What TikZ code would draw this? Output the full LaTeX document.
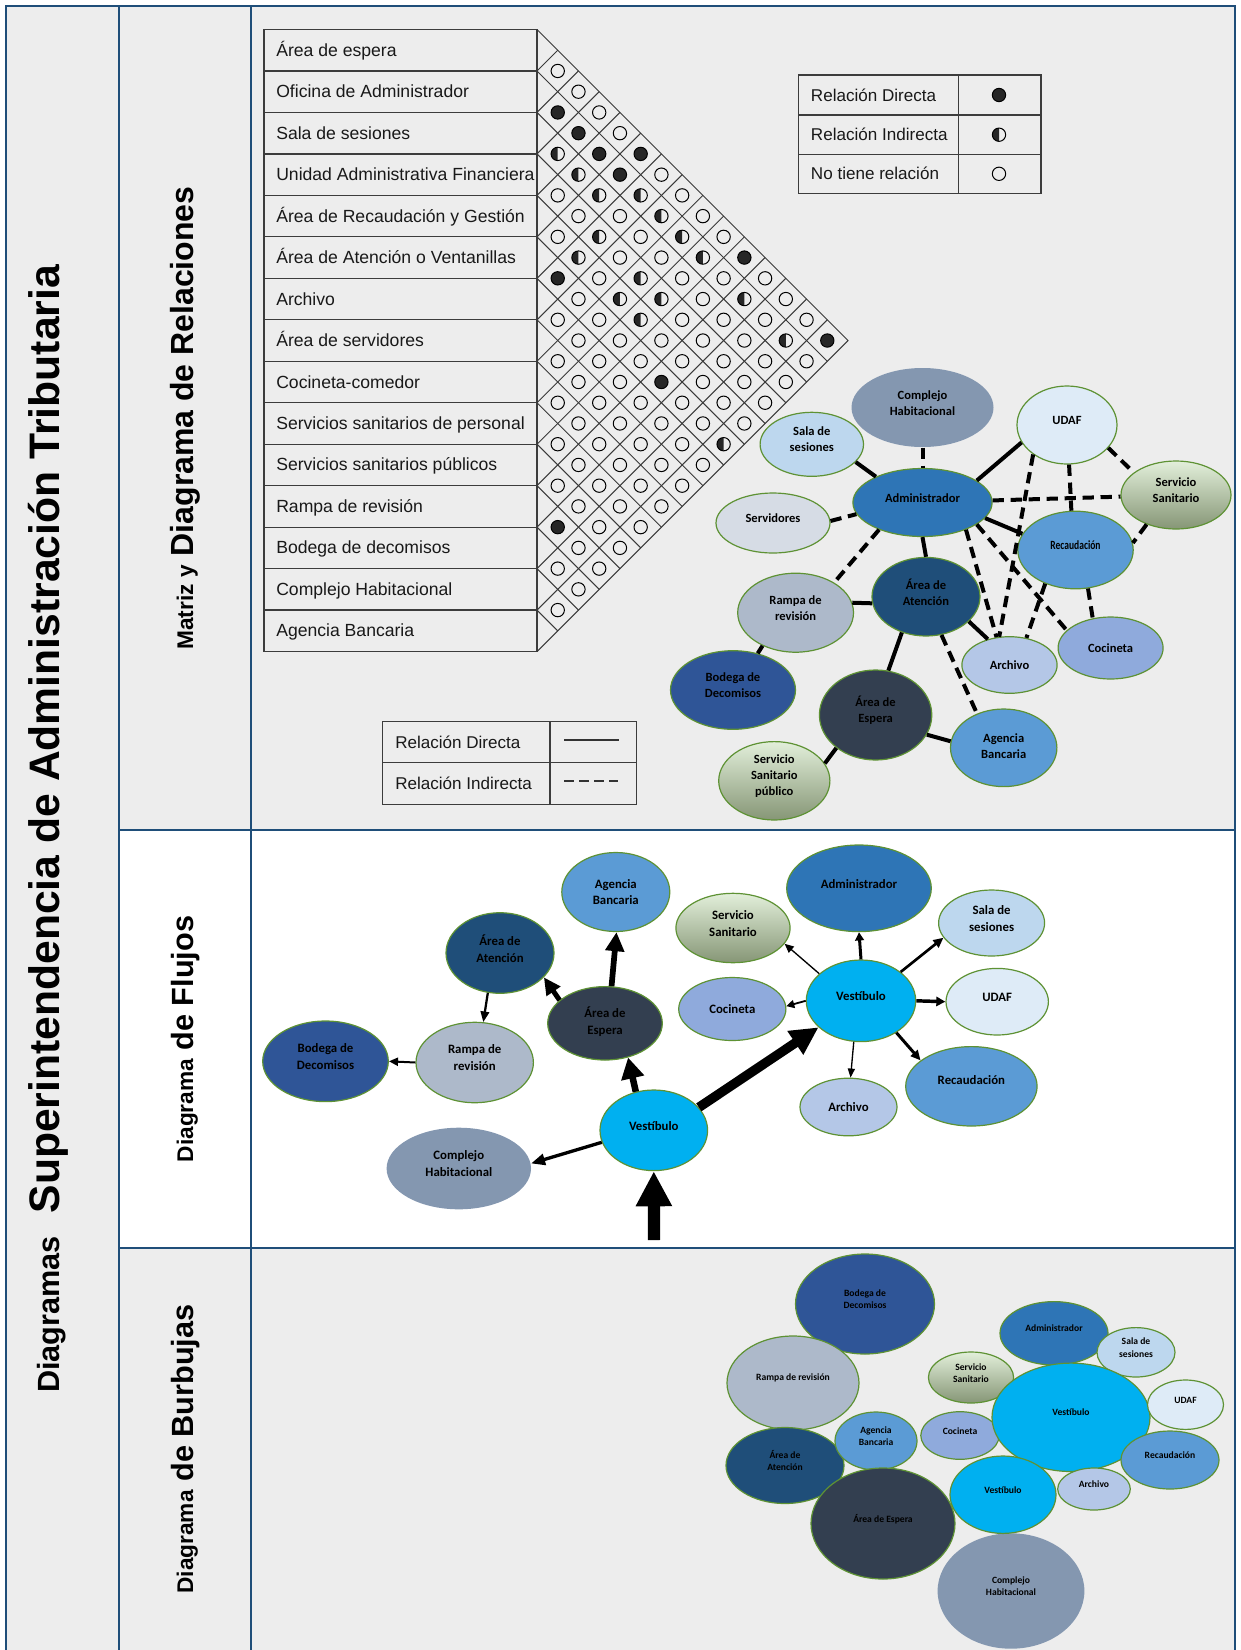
\documentclass[tikz,border=0pt]{standalone}
\usepackage{fontspec}
\usepackage{graphicx}
\setmainfont{Liberation Sans}
\newfontfamily\calfont{Carlito}
\usetikzlibrary{shapes.geometric,arrows.meta}

\definecolor{framec}{HTML}{1F4E79}
\definecolor{bgc}{HTML}{EDEDED}
\definecolor{tblc}{HTML}{3C3C3C}
\definecolor{grc}{HTML}{3A3A3A}
\definecolor{olc}{HTML}{5E9234}
\definecolor{cComp}{HTML}{8497B0}
\definecolor{cUdaf}{HTML}{DEEBF7}
\definecolor{cSala}{HTML}{BDD7EE}
\definecolor{cAdm}{HTML}{2E75B6}
\definecolor{cServ}{HTML}{D6DCE5}
\definecolor{cRec}{HTML}{5B9BD5}
\definecolor{cAten}{HTML}{1F4E79}
\definecolor{cRamp}{HTML}{ADB9CA}
\definecolor{cCoc}{HTML}{8FAADC}
\definecolor{cArch}{HTML}{B4C7E7}
\definecolor{cBod}{HTML}{2F5597}
\definecolor{cEsp}{HTML}{333F50}
\definecolor{cVest}{HTML}{00B0F0}
\definecolor{ssTop}{HTML}{E2EFDA}
\definecolor{ssBot}{HTML}{869676}

\tikzset{
  ovl/.style={ellipse, draw=olc, line width=0.9pt, inner sep=0pt},
  lbl/.style={align=center, inner sep=0pt, text=black},
  ss/.style={top color=ssTop, bottom color=ssBot},
  nob/.style={draw=none},
  rs/.style={line width=3pt},
  rd/.style={line width=3pt, dash pattern=on 8.5pt off 5pt},
  fa/.style n args={3}{line width=#1, -{Triangle[length=#2,width=#3]}},
  frameline/.style={draw=framec, line width=1.5pt},
  tbl/.style={draw=tblc, line width=0.9pt},
  gridl/.style={draw=grc, line width=0.75pt},
  sym/.style={draw=black, line width=0.75pt},
  symf/.style={fill=black!85},
  rowtxt/.style={font=\fontsize{13.2}{15}\selectfont, text=black!90, inner sep=0pt},
  legtxt/.style={font=\fontsize{12.8}{15}\selectfont, text=black!90, inner sep=0pt},
  rowbox/.style={draw=tblc, line width=0.9pt, rectangle, minimum width=204.75pt, minimum height=31.1pt, inner sep=0pt, outer sep=0pt},
}

% [text shift]{name}{x}{y}{text}{rx}{ry}{style}
\newcommand\ov[8][3.5pt]{%
  \node[ovl, minimum width=#5*1.5pt, minimum height=#6*1.5pt, #7] (#2) at (#3,#4) {};
  \node[lbl] (#2t) at ([yshift=#1]#2.center) {#8};}

\def\mh{41.47}
\def\mx{537}
\def\my{29.5}

\begin{document}
\begin{tikzpicture}[x=0.75pt,y=-0.75pt]
\useasboundingbox (0,0) rectangle (1240,1650);
% backgrounds
\fill[white] (0,0) rectangle (1240,1650);
\fill[bgc] (6,6) rectangle (1235,1652);
\fill[white] (119,829.5) rectangle (1235,1248.4);
% frame
\draw[frameline] (6,1652) -- (6,6) -- (1235,6) -- (1235,1652);
\draw[frameline] (119,6) -- (119,1652);
\draw[frameline] (250.7,6) -- (250.7,1652);
\draw[frameline] (119,829.5) -- (1235,829.5);
\draw[frameline] (119,1248.4) -- (1235,1248.4);

% titles
\node[rotate=90, anchor=base, font=\bfseries] (title) at (59,829)
  {{\fontsize{23}{28}\selectfont Diagramas}\hspace{17pt}{\fontsize{32}{38}\selectfont Superintendencia de Administración Tributaria}};
\node[rotate=90, anchor=base, font=\bfseries] (lrel) at (193,418)
  {{\fontsize{17}{20}\selectfont Matriz y}{\fontsize{24}{28}\selectfont\space Diagrama de Relaciones}};
\node[rotate=90, anchor=base, font=\bfseries] (lflu) at (193,1039)
  {{\fontsize{17}{20}\selectfont Diagrama}{\fontsize{23}{28}\selectfont\space de Flujos}};
\node[rotate=90, anchor=base, font=\bfseries] (lbur) at (193,1449)
  {{\fontsize{17}{20}\selectfont Diagrama}{\fontsize{23}{28}\selectfont\space de Burbujas}};

% ---------- matrix table
\foreach \t [count=\i from 0] in {Área de espera, Oficina de Administrador, Sala de sesiones, Unidad Administrativa Financiera, Área de Recaudación y Gestión, Área de Atención o Ventanillas, Archivo, Área de servidores, Cocineta-comedor, Servicios sanitarios de personal, Servicios sanitarios públicos, Rampa de revisión, Bodega de decomisos, Complejo Habitacional, Agencia Bancaria}{
  \node[rowbox, anchor=north west] (row\i) at (264,{\my+\i*\mh}) {};
  \node[rowtxt, anchor=base west] (rowt\i) at (276,{\my+\i*\mh+\mh/2+6}) {\t};
}
% diagonal grid
\draw[gridl] (\mx,\my) -- ({\mx+7.5*\mh},{\my+7.5*\mh}) -- (\mx,{\my+15*\mh});
\foreach \k in {1,...,14}{
  \draw[gridl] (\mx,{\my+\k*\mh}) -- ++({(15-\k)*\mh/2},{(15-\k)*\mh/2});
  \draw[gridl] (\mx,{\my+\k*\mh}) -- ++({\k*\mh/2},{-\k*\mh/2});
}
% symbols
\foreach \i/\j in {1/2,1/3,1/4,0/5,1/5,0/10,5/6,0/14,5/11,11/12}{
  \fill[symf] ({\mx+(\j-\i)*\mh/2},{\my+(\i+\j+1)*\mh/2}) circle[radius=5pt];
}
\foreach \i/\j in {2/3,2/4,2/5,1/6,1/7,3/6,1/8,4/6,1/9,3/8,4/8,3/9,1/11,4/9,1/13,5/14}{
  \fill[symf] ({\mx+(\j-\i)*\mh/2},{\my+(\i+\j+1)*\mh/2}) ++(0pt,5pt) arc[start angle=90,end angle=270,radius=5pt] -- cycle;
}
\foreach \i in {0,...,13}{
  \pgfmathtruncatemacro{\js}{\i+1}
  \foreach \j in {\js,...,14}{
    \draw[sym] ({\mx+(\j-\i)*\mh/2},{\my+(\i+\j+1)*\mh/2}) circle[radius=5pt];
  }
}

% ---------- legend 1
\draw[tbl] (798.3,75) rectangle (1041,193.3);
\draw[tbl] (798.3,115) -- (1041,115);
\draw[tbl] (798.3,154.3) -- (1041,154.3);
\draw[tbl] (958.3,75) -- (958.3,193.3);
\node[legtxt, anchor=base west] (lg1a) at (810.7,101) {Relación Directa};
\node[legtxt, anchor=base west] (lg1b) at (810.7,140.7) {Relación Indirecta};
\node[legtxt, anchor=base west] (lg1c) at (810.7,179.8) {No tiene relación};
\fill[symf] (999,95) circle[radius=5pt];
\draw[sym] (999,95) circle[radius=5pt];
\fill[symf] (999,134.7) ++(0pt,5pt) arc[start angle=90,end angle=270,radius=5pt] -- cycle;
\draw[sym] (999,134.7) circle[radius=5pt];
\draw[sym] (999,173.8) circle[radius=5pt];

% ---------- legend 2
\draw[tbl] (382.3,721.7) rectangle (636.7,804.3);
\draw[tbl] (382.3,762.7) -- (636.7,762.7);
\draw[tbl] (550,721.7) -- (550,804.3);
\node[legtxt, anchor=base west] (lg2a) at (395,748) {Relación Directa};
\node[legtxt, anchor=base west] (lg2b) at (395,789.5) {Relación Indirecta};
\draw[line width=1.75pt, black!80] (564.3,740) -- (618.7,740);
\draw[line width=1.75pt, black!80, dash pattern=on 7pt off 4.2pt] (564.3,780.7) -- (618.7,780.7);

% ---------- relation diagram
\begin{scope}[lbl/.append style={font=\calfont\bfseries\fontsize{9.4}{12}\selectfont}]
\ov{rcomp}{922.5}{407.5}{71}{39.5}{fill=cComp,nob}{Complejo\\Habitacional}
\ov{rudaf}{1067}{425}{50}{39}{fill=cUdaf}{UDAF}
\ov{rsala}{811.8}{444.3}{51.7}{32}{fill=cSala}{Sala de\\sesiones}
\ov{rss}{1176}{495}{55}{34}{ss}{Servicio\\Sanitario}
\ov{radm}{922.5}{502.5}{69.6}{34}{fill=cAdm}{Administrador}
\ov{rserv}{773}{523}{57}{30}{fill=cServ}{Servidores}
\ov{rrec}{1075.5}{550}{57.7}{38.8}{fill=cRec}{\scalebox{0.76}[1]{Recaudación}}
\ov{raten}{926}{596.7}{54}{39.3}{fill=cAten}{Área de\\Atención}
\ov{rramp}{795.6}{612.7}{57.9}{39.5}{fill=cRamp}{Rampa de\\revisión}
\ov[0pt]{rcoc}{1110.6}{648}{52.5}{31}{fill=cCoc}{Cocineta}
\ov[0pt]{rarch}{1009.5}{665}{47.6}{28.3}{fill=cArch}{Archivo}
\ov{rbod}{733}{690}{62.5}{39.3}{fill=cBod}{Bodega de\\Decomisos}
\ov{resp}{875.6}{715}{56.2}{45}{fill=cEsp}{Área de\\Espera}
\ov[1pt]{rage}{1003.7}{747.8}{53.2}{38.8}{fill=cRec}{Agencia\\Bancaria}
\ov{rssp}{774.3}{780.8}{55.6}{39.2}{ss}{Servicio\\Sanitario\\público}
\end{scope}
\draw[rd] (rcomp.south) -- (radm.north);
\draw[rs] (rsala.-22) -- (radm.151);
\draw[rd] (rserv.2) -- (radm.190);
\draw[rs] (radm.22) -- (rudaf.201);
\draw[rd] (radm) -- (rss);
\draw[rd] (rudaf.-87) -- (rrec.96);
\draw[rd] (rudaf.-29) -- (rss.152);
\draw[rd] (rss.-135) -- (rrec.7);
\draw[rd] (rudaf.221) -- (rarch.110);
\draw[rs] (radm.-14) -- (rrec.163);
\draw[rd] (radm.-32) -- (rarch.115);
\draw[rd] (radm.-22) -- (rcoc.158);
\draw[rd] (rrec.-132) -- (rarch.58);
\draw[rd] (rrec.-72) -- (rcoc.121);
\draw[rs] (radm.south) -- (raten.north);
\draw[rd] (radm.212) -- (rramp.38);
\draw[rs] (rramp.10) -- (raten.187);
\draw[rs] (rramp.-135) -- (rbod.56);
\draw[rs] (raten.-30) -- (rarch.130);
\draw[rs] (raten.-124) -- (resp.74);
\draw[rd] (raten.-68) -- (rage.128);
\draw[rs] (resp.-21) -- (rage.173);
\draw[rs] (resp.-140) -- (rssp.19);

% ---------- flow diagram
\begin{scope}[lbl/.append style={font=\calfont\bfseries\fontsize{9.6}{12.5}\selectfont}]
\ov[0pt]{fage}{615.8}{892}{54}{39.5}{fill=cRec}{Agencia\\Bancaria}
\ov{fadm}{859}{888.3}{72.3}{43.3}{fill=cAdm}{Administrador}
\ov{fss}{733}{928}{57.1}{34.7}{ss}{Servicio\\Sanitario}
\ov{fsala}{991.6}{923}{53}{33}{fill=cSala}{Sala de\\sesiones}
\ov{faten}{500}{953}{54}{40.3}{fill=cAten}{Área de\\Atención}
\ov[0pt]{fcoc}{732.3}{1009}{53.6}{31.5}{fill=cCoc}{Cocineta}
\ov{fvu}{861}{1000.8}{54.7}{40.8}{fill=cVest}{Vestíbulo}
\ov{fudaf}{997.2}{1001.7}{51.2}{33.3}{fill=cUdaf}{UDAF}
\ov[1.5pt]{fesp}{605}{1023.3}{57.3}{36.7}{fill=cEsp}{Área de\\Espera}
\ov{fbod}{325.5}{1061.3}{62.8}{40.3}{fill=cBod}{Bodega de\\Decomisos}
\ov{framp}{474.7}{1062.5}{58.7}{40.2}{fill=cRamp}{Rampa de\\revisión}
\ov[5pt]{frec}{971.4}{1086.3}{65.7}{39.7}{fill=cRec}{Recaudación}
\ov[0pt]{farch}{848.5}{1107}{48.5}{28.8}{fill=cArch}{Archivo}
\ov{fvl}{653.8}{1130.3}{53.8}{40.3}{fill=cVest}{Vestíbulo}
\ov{fcomp}{458.8}{1168.5}{72.2}{40.8}{fill=cComp,nob}{Complejo\\Habitacional}
\end{scope}
\coordinate (entry) at (654,1240);
\draw[fa={9.2pt}{26.3pt}{25.5pt}] (entry) -- (fvl.south);
\draw[fa={4.9pt}{15.8pt}{16.7pt}] (fvl.115) -- (fesp.-56);
\draw[fa={4.3pt}{14.3pt}{13.7pt}] (fesp.80) -- (fage.-89);
\draw[fa={3.75pt}{12.8pt}{12pt}] (fesp.153) -- (faten.-29);
\draw[fa={1.7pt}{8pt}{6.4pt}] (faten.-107) -- (framp.78);
\draw[fa={1.5pt}{6.8pt}{6pt}] (framp.west) -- (fbod.east);
\draw[fa={2.5pt}{10.5pt}{8.3pt}] (fvl.193) -- (fcomp.4);
\draw[fa={7.1pt}{21pt}{20pt}] (fvl.27) -- (fvu.212);
\draw[fa={2.25pt}{6.2pt}{6.5pt}] (fvu.north) -- (fadm.south);
\draw[fa={1pt}{6.8pt}{6pt}] (fvu.147) -- (fss.-17);
\draw[fa={2pt}{7.5pt}{6.8pt}] (fvu.36) -- (fsala.-163);
\draw[fa={1.35pt}{6pt}{6pt}] (fvu.west) -- (fcoc.3);
\draw[fa={2.6pt}{6.8pt}{6.8pt}] (fvu.east) -- (fudaf.west);
\draw[fa={2.25pt}{7.5pt}{6.8pt}] (fvu.-42) -- (frec.153);
\draw[fa={1pt}{6.8pt}{5.3pt}] (fvu.-100) -- (farch.86);

% ---------- bubble diagram
\begin{scope}[lbl/.append style={font=\calfont\bfseries\fontsize{7.2}{9.2}\selectfont}]
\ov{bbod}{865}{1304}{69.5}{50}{fill=cBod}{Bodega de\\Decomisos}
\ov{bramp}{793}{1383}{66}{47}{fill=cRamp}{Rampa de revisión}
\ov{baten}{785}{1465.5}{59}{38}{fill=cAten}{Área de\\Atención}
\ov{bage}{876}{1441}{41}{29}{fill=cRec}{Agencia\\Bancaria}
\ov{besp}{883}{1523.5}{72}{55.5}{fill=cEsp}{Área de Espera}
\ov{bcomp}{1011}{1591}{73.4}{57.7}{fill=cComp,nob}{Complejo\\Habitacional}
\ov{bss}{971}{1377.5}{42.6}{25.5}{ss}{Servicio\\Sanitario}
\ov{bcoc}{960}{1435.5}{39.2}{23.8}{fill=cCoc}{Cocineta}
\ov{badm}{1054}{1333.3}{54}{31.7}{fill=cAdm}{Administrador}
\ov{bsala}{1136}{1352.3}{39}{24.7}{fill=cSala}{Sala de\\sesiones}
\ov{bvb}{1071}{1417.3}{79}{54.2}{fill=cVest}{Vestíbulo}
\ov{budaf}{1185.5}{1404.7}{38}{24.7}{fill=cUdaf}{UDAF}
\ov{brec}{1170}{1460}{49}{29}{fill=cRec}{Recaudación}
\ov{bvs}{1003}{1494.7}{53}{38.7}{fill=cVest}{Vestíbulo}
\ov{barch}{1094}{1489}{36.3}{21}{fill=cArch}{Archivo}
\end{scope}
\end{tikzpicture}
\end{document}
